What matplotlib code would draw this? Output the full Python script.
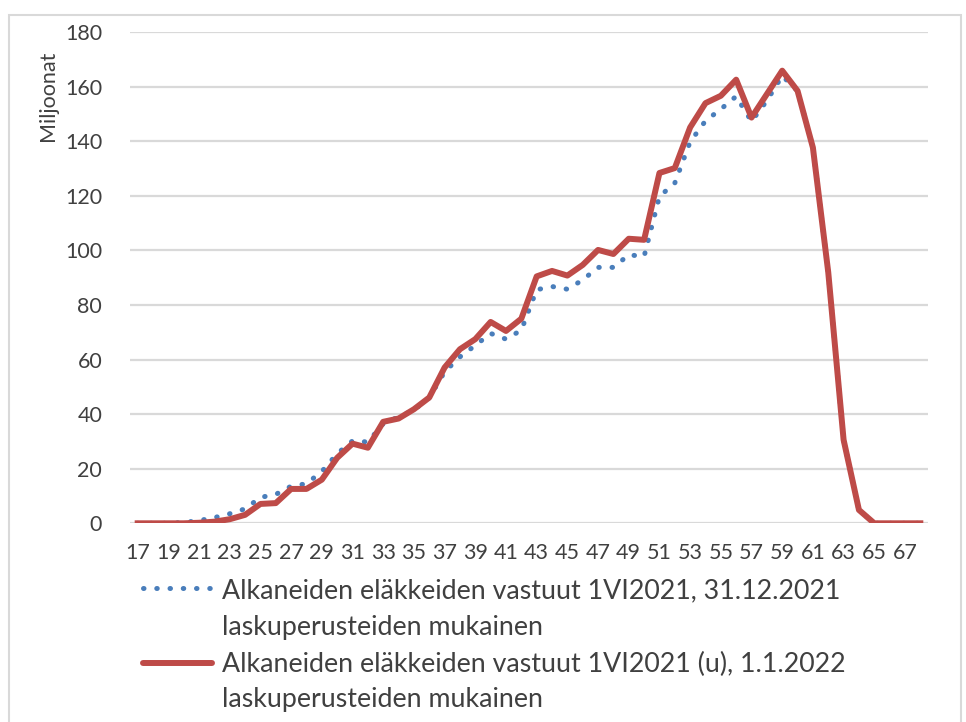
import matplotlib
matplotlib.use("Agg")
import matplotlib.pyplot as plt
from matplotlib.lines import Line2D
from matplotlib.patches import Rectangle

plt.rcParams['font.family'] = ['Lato', 'DejaVu Sans']

ages = list(range(17, 69))
vastuut_31_12_2021 = [0, 0, 0, 0.3, 1.0, 2.1, 3.5, 5.3, 9.5, 10.6,
                      13.6, 14.5, 19, 25.5, 30.2, 29.8, 36.5, 39, 41.5, 46,
                      55.5, 61, 65.2, 69.6, 67.5, 70.8, 85.6, 86.8, 85.8, 89.2,
                      93.8, 93.8, 98.4, 97.8, 119.8, 124.7, 139.8, 147.5, 151.8, 156.5,
                      147.3, 154.9, 164, 158.5, 137.7, 92, 30.6, 4.9, 0, 0, 0, 0]
vastuut_1_1_2022 = [0, 0, 0, 0, 0.2, 0.6, 1.5, 3.1, 7.1, 7.4,
                    12.6, 12.6, 16, 24, 29.2, 27.7, 37.2, 38.4, 41.8, 46.1,
                    57.1, 63.8, 67.5, 73.8, 70.5, 75.0, 90.5, 92.5, 90.8, 94.7,
                    100.2, 98.7, 104.3, 103.9, 128.4, 130.2, 145.1, 154, 156.7, 162.6,
                    148.7, 157.3, 165.9, 158.5, 137.7, 92, 30.6, 4.9, 0, 0, 0, 0]
xtick_labels = [str(a) for a in ages[::2]]
yticks = list(range(0, 181, 20))
label_blue = "Alkaneiden eläkkeiden vastuut 1VI2021, 31.12.2021\nlaskuperusteiden mukainen"
label_red = "Alkaneiden eläkkeiden vastuut 1VI2021 (u), 1.1.2022\nlaskuperusteiden mukainen"

BLUE = "#4A7EBB"
RED = "#BE4B48"
GRID = "#D9D9D9"
TXT = "#404040"
DOTS = (0, (0.1, 2.55))

W, H = 966, 722
fig = plt.figure(figsize=(W / 100, H / 100), dpi=100)
ax = fig.add_axes([130 / W, 1 - 523.3 / H, (928 - 130) / W, (523.3 - 32.2) / H])

ax.plot(ages, vastuut_31_12_2021, color=BLUE, lw=3.6, ls=DOTS,
        dash_capstyle='round', zorder=3)
ax.plot(ages, vastuut_1_1_2022, color=RED, lw=4.3, zorder=4)

ax.set_xlim(16.5, 68.5)
ax.set_ylim(0, 180)
ax.set_yticks(yticks)
ax.set_xticks(ages[::2])
ax.set_xticklabels(xtick_labels)
ax.grid(axis='y', color=GRID, lw=1.6)
ax.set_axisbelow(True)
for s in ax.spines.values():
    s.set_visible(False)
ax.tick_params(axis='both', length=0, labelsize=15.5, colors=TXT)
ax.tick_params(axis='y', pad=20)
ax.tick_params(axis='x', pad=14)

fig.text(48 / W, 1 - 96 / H, "Miljoonat", rotation=90, ha='center', va='center',
         fontsize=15.5, color=TXT)

# legend drawn below the plot, handle aligned with the first label line
legend_items = [
    (label_blue, dict(color=BLUE, lw=3.6, ls=DOTS, dash_capstyle='round'), 588, [598.3, 634.5]),
    (label_red, dict(color=RED, lw=4.3, solid_capstyle='round'), 662.5, [671.7, 707.5]),
]
for label, style, ymid, baselines in legend_items:
    fig.lines.append(Line2D([143 / W, 212 / W], [1 - ymid / H, 1 - ymid / H],
                            transform=fig.transFigure, **style))
    for line, yb in zip(label.split("\n"), baselines):
        fig.text(221.5 / W, 1 - yb / H, line, ha='left', va='baseline',
                 fontsize=19.3, color=TXT)

fig.patches.append(Rectangle((9 / W, -0.1), (961 - 9) / W, 1.1 - 15 / H,
                             transform=fig.transFigure, fill=False,
                             edgecolor=GRID, lw=1.5))

fig.savefig("out.png", dpi=100)
